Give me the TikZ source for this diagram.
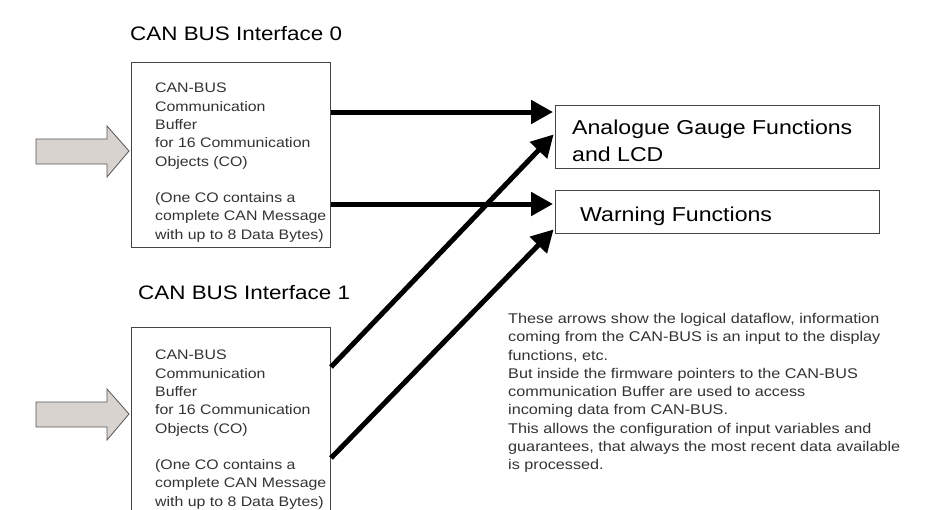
\documentclass[tikz,border=0pt]{standalone}
\usepackage{fontspec}
\newfontfamily\af[FakeStretch=1.15]{Liberation Sans}
\usetikzlibrary{arrows.meta,calc}
\definecolor{boxline}{HTML}{444444}
\definecolor{txtgray}{HTML}{333333}
\definecolor{arrfill}{HTML}{D9D3D0}
\definecolor{arrline}{HTML}{555555}
\tikzset{
  bufbox/.style={draw=boxline, line width=1pt, rectangle, inner sep=0pt, anchor=north west},
  funcbox/.style={draw=boxline, line width=1pt, rectangle, inner sep=0pt, anchor=north west, minimum width=324pt},
  boxtext/.style={inner sep=0pt, anchor=north west, align=left, text=txtgray, font=\af\fontsize{13.8}{18.3}\selectfont},
  notetext/.style={boxtext, font=\af\fontsize{14.1}{18.3}\selectfont},
  titletext/.style={inner sep=0pt, anchor=west, font=\af\fontsize{19.5}{22}\selectfont},
  functext/.style={inner sep=0pt, anchor=north west, align=left, font=\af\fontsize{20.1}{26.5}\selectfont},
  flow/.style={line width=5pt, -{Triangle[length=22pt,width=23pt]}, shorten >=2pt},
  inarrow/.style={draw=arrline, fill=arrfill, line width=0.8pt, line join=miter},
}
\begin{document}
\begin{tikzpicture}[x=1pt,y=-1pt]
\useasboundingbox (0,0) rectangle (928,509);
\clip (0,0) rectangle (928,509);
\fill[white] (0,0) rectangle (928,509);

% titles
\node[titletext] (t0) at (130,34) {CAN BUS Interface 0};
\node[titletext] (t1) at (138,293) {CAN BUS Interface 1};

% buffer boxes
\node[bufbox, minimum width=199pt, minimum height=185pt] (b0) at (131,62) {};
\node[bufbox, minimum width=199pt, minimum height=200pt] (b1) at (131,327) {};

\node[boxtext] (b0t) at (155,83) {CAN-BUS\\Communication\\Buffer\\for 16 Communication\\Objects (CO)\\[18.3pt](One CO contains a\\complete CAN Message\\with up to 8 Data Bytes)};
\node[boxtext] (b1t) at (155,350) {CAN-BUS\\Communication\\Buffer\\for 16 Communication\\Objects (CO)\\[18.3pt](One CO contains a\\complete CAN Message\\with up to 8 Data Bytes)};

% function boxes
\node[funcbox, minimum height=63pt] (ag) at (555,105) {};
\node[funcbox, minimum height=43pt] (wf) at (555,190) {};
\node[functext] (agt) at (572,120) {Analogue Gauge Functions\\and LCD};
\node[functext, anchor=west] (wft) at (580,216) {Warning Functions};

% explanation
\node[notetext] (note) at (508,313) {These arrows show the logical dataflow, information\\coming from the CAN-BUS is an input to the display\\functions, etc.\\But inside the firmware pointers to the CAN-BUS\\communication Buffer are used to access\\incoming data from CAN-BUS.\\This allows the configuration of input variables and\\guarantees, that always the most recent data available\\is processed.};

% input arrows
\coordinate (i0) at ($(b0.north west)+(-2,89)$);
\coordinate (i1) at ($(b1.north west)+(-2,87)$);
\foreach \t in {i0,i1}{
  \draw[inarrow] (\t) -- ++(-22,-25) -- ++(0,13) -- ++(-71,0) -- ++(0,25) -- ++(71,0) -- ++(0,13) -- cycle;
}

% dataflow arrows
\draw[flow] ($(b0.north east)+(0,50)$) -- ($(ag.north west)+(0,7)$);
\draw[flow] ($(b0.north east)+(0,142)$) -- ($(wf.north west)+(0,14)$);
\draw[flow] ($(b1.north east)+(0,40)$) -- ($(ag.north west)+(0,28)$);
\draw[flow] ($(b1.north east)+(0,131)$) -- ($(wf.north west)+(0,38)$);
\end{tikzpicture}
\end{document}
